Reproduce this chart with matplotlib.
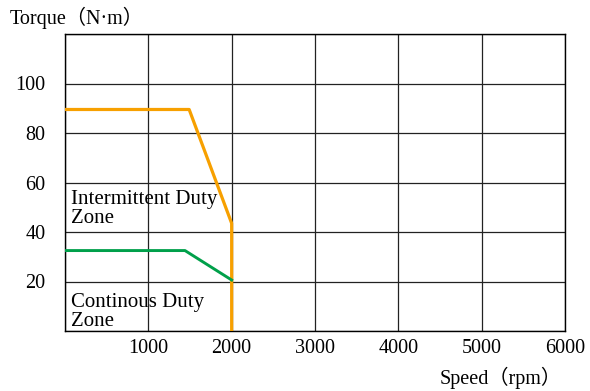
import matplotlib.pyplot as plt

plt.rcParams['font.family'] = ['Liberation Serif', 'Noto Sans CJK SC']

# torque-speed envelope
peak_speed = [0, 1490, 2000, 2000]
peak_torque = [89.5, 89.5, 43.5, 0]
cont_speed = [0, 1440, 2000]
cont_torque = [32.5, 32.5, 20.6]

x_ticks = [1000, 2000, 3000, 4000, 5000, 6000]
y_ticks = [20, 40, 60, 80, 100]

fig = plt.figure(figsize=(5.9, 3.91), dpi=100)
ax = fig.add_axes([65 / 590, 60 / 391, 500 / 590, 297 / 391])

ax.plot(peak_speed, peak_torque, color='#F7A000', linewidth=2.3, zorder=3)
ax.plot(cont_speed, cont_torque, color='#00A04A', linewidth=2.1, zorder=3)

ax.set_xlim(0, 6000)
ax.set_ylim(0, 120)
ax.set_xticks(x_ticks)
ax.set_yticks(y_ticks)
for v in range(0, 6001, 1000):
    ax.axvline(v, color='#222222', linewidth=0.9, zorder=1)
for v in range(0, 121, 20):
    ax.axhline(v, color='#222222', linewidth=0.9, zorder=1)
ax.tick_params(length=0, labelsize=14.5)
ax.tick_params(axis='y', pad=14)
ax.tick_params(axis='x', pad=6)
for s in ax.spines.values():
    s.set_linewidth(1.0)

ax.text(70, 57, 'Intermittent Duty\nZone', fontsize=15, va='top', linespacing=1.0)
ax.text(70, 15.3, 'Continous Duty\nZone', fontsize=15, va='top', linespacing=1.0)

fig.text(10 / 590, 1 - 18 / 391, 'Torque（N·m）', fontsize=14.5, va='center')
fig.text(440 / 590, 1 - 378 / 391, 'Speed（rpm）', fontsize=14.5, va='center')

fig.savefig('out.png', dpi=100)
